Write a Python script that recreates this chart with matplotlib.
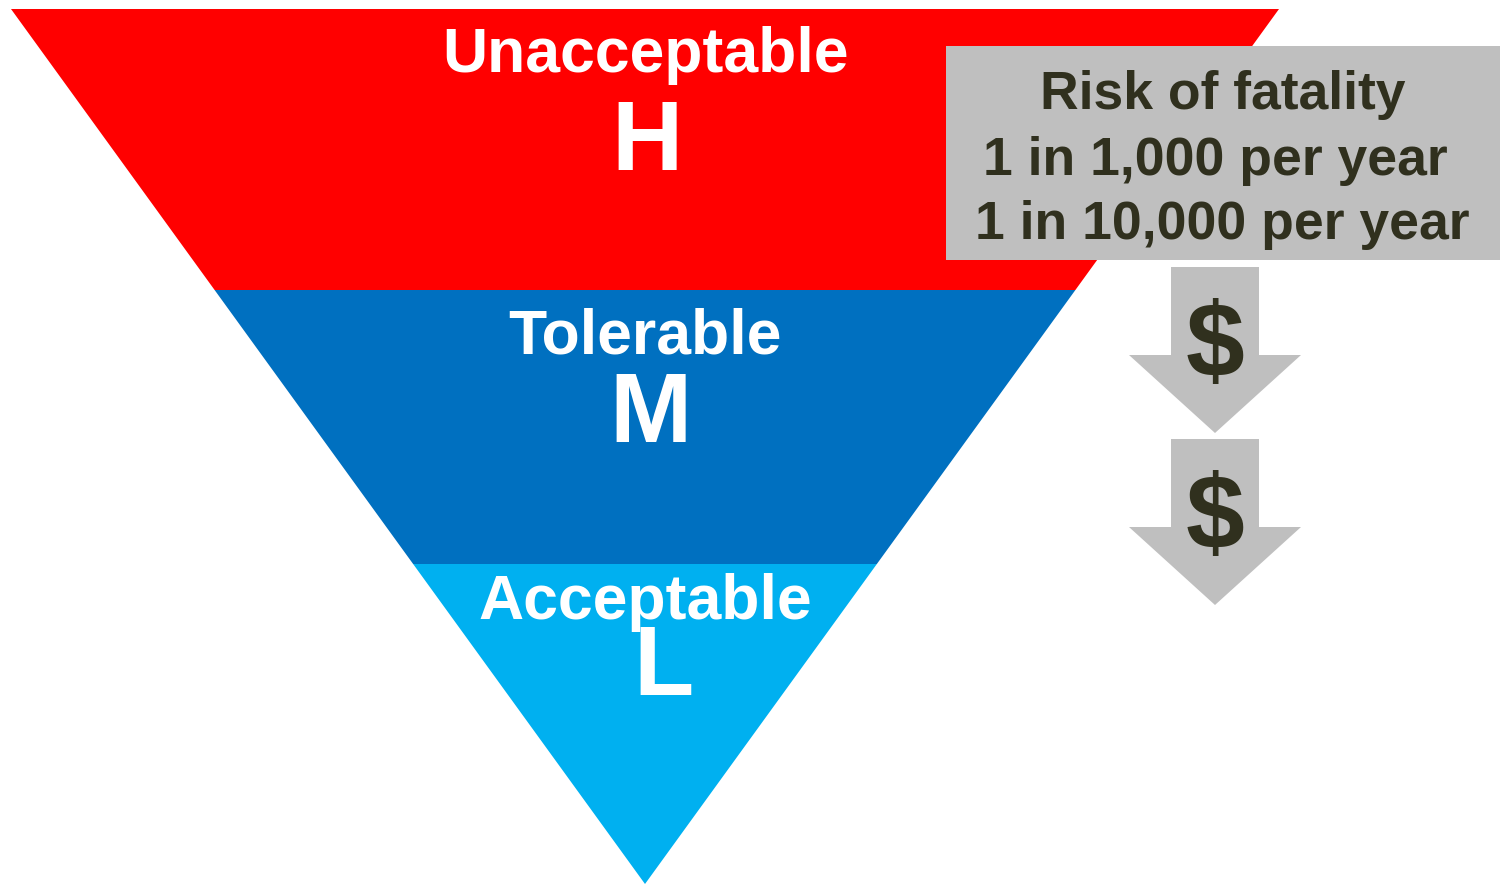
import matplotlib
matplotlib.use("Agg")
import matplotlib.pyplot as plt
from matplotlib.patches import Polygon, Rectangle

# ---- data ----
bands = ["Unacceptable", "Tolerable", "Acceptable"]
levels = ["H", "M", "L"]
band_colors = ["#FF0000", "#0070C0", "#00B0F0"]
band_bounds = [9, 290, 564, 884]          # y (pixels, top-down) of band edges
tri_top_left, tri_top_right, tri_apex_x = 11, 1279, 645
box_lines = ["Risk of fatality", "1 in 1,000 per year", "1 in 10,000 per year"]
cost_symbols = ["$", "$"]

W, H = 1501, 884
fig = plt.figure(figsize=(W / 100, H / 100), dpi=100)
ax = fig.add_axes([0, 0, 1, 1])
ax.set_xlim(0, W)
ax.set_ylim(H, 0)
ax.axis("off")

FONT = "Liberation Sans"
TXT = "#30301e"
GREY = "#BFBFBF"


def edge_x(y, side):
    top, bot = band_bounds[0], band_bounds[-1]
    t = (y - top) / (bot - top)
    x0 = tri_top_left if side == "l" else tri_top_right
    return x0 + (tri_apex_x - x0) * t


# triangle bands
for i, col in enumerate(band_colors):
    y0, y1 = band_bounds[i], band_bounds[i + 1]
    pts = [(edge_x(y0, "l"), y0), (edge_x(y0, "r"), y0),
           (edge_x(y1, "r"), y1), (edge_x(y1, "l"), y1)]
    ax.add_patch(Polygon(pts, closed=True, facecolor=col, edgecolor="none"))

# band labels
label_pos = [(645, 72), (645, 353), (645, 619)]
letter_pos = [(647, 170), (650, 442), (664, 695)]
for name, (x, y) in zip(bands, label_pos):
    ax.text(x, y, name, color="white", fontsize=45, fontweight="bold",
            family=FONT, ha="center", va="baseline")
for lv, (x, y) in zip(levels, letter_pos):
    ax.text(x, y, lv, color="white", fontsize=71, fontweight="bold",
            family=FONT, ha="center", va="baseline")

# grey info box
ax.add_patch(Rectangle((946, 46), 554, 214, facecolor=GREY, edgecolor="none"))
line_pos = [(1223, 109), (1215, 175), (1222, 239)]
for txt, (x, y) in zip(box_lines, line_pos):
    ax.text(x, y, txt, color=TXT, fontsize=38.5, fontweight="bold",
            family=FONT, ha="center", va="baseline")

# down arrows with dollar signs
arrow_tops = [267, 439]
for sym, top in zip(cost_symbols, arrow_tops):
    cx = 1215
    shaft_h, head_h = 88, 78
    pts = [(cx - 44, top), (cx + 44, top), (cx + 44, top + shaft_h),
           (cx + 86, top + shaft_h), (cx, top + shaft_h + head_h),
           (cx - 86, top + shaft_h), (cx - 44, top + shaft_h)]
    ax.add_patch(Polygon(pts, closed=True, facecolor=GREY, edgecolor="none"))
    ax.text(cx, top + 109, sym, color=TXT, fontsize=76, fontweight="bold",
            family=FONT, ha="center", va="baseline")

fig.savefig("out.png", dpi=100, facecolor="white")
